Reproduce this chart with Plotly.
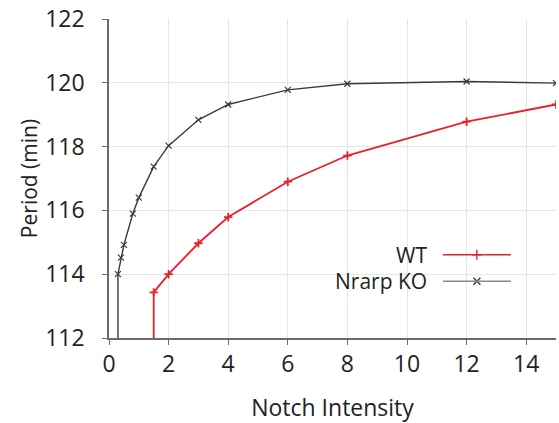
import plotly.graph_objects as go

# Notch intensity sweep and resulting oscillation period (min)
wt_intensity = [1.5, 2, 3, 4, 6, 8, 12, 15]
wt_period = [113.43, 114.0, 114.97, 115.79, 116.9, 117.72, 118.78, 119.32]

ko_intensity = [0.3, 0.4, 0.5, 0.8, 1, 1.5, 2, 3, 4, 6, 8, 12, 15]
ko_period = [114.0, 114.52, 114.92, 115.9, 116.4, 117.37, 118.03, 118.84, 119.32, 119.78, 119.97, 120.04, 119.99]

series_names = ["WT", "Nrarp KO"]
x_ticks = [0, 2, 4, 6, 8, 10, 12, 14]
y_ticks = [112, 114, 116, 118, 120, 122]

Y_MIN, Y_MAX = 112, 122
X_MIN, X_MAX = 0, 15

RED = "#e8202a"
DARK = "#3a3a3a"
KEY_GRAY = "#8a8a8a"
FONT = "Open Sans"
TEXT = "#222"

fig = go.Figure()

# below the first oscillating intensity the period drops off the axis
fig.add_trace(go.Scatter(
    x=[wt_intensity[0], wt_intensity[0]], y=[Y_MIN, wt_period[0]],
    mode="lines", line=dict(color=RED, width=1.8), showlegend=False,
    hoverinfo="skip"))
fig.add_trace(go.Scatter(
    x=[ko_intensity[0], ko_intensity[0]], y=[Y_MIN, ko_period[0]],
    mode="lines", line=dict(color=DARK, width=1.4), showlegend=False,
    hoverinfo="skip"))

fig.add_trace(go.Scatter(
    x=wt_intensity, y=wt_period, mode="lines+markers", name=series_names[0],
    line=dict(color=RED, width=1.8),
    marker=dict(symbol="cross-thin", size=6, line=dict(color=RED, width=1.8)),
    showlegend=False))
fig.add_trace(go.Scatter(
    x=ko_intensity, y=ko_period, mode="lines+markers", name=series_names[1],
    line=dict(color=DARK, width=1.4),
    marker=dict(symbol="x-thin", size=6, line=dict(color=DARK, width=1.2)),
    showlegend=False))

# legend: label on the left, line key with its marker on the right
key_rows = [
    (series_names[0], 0.261, RED, "cross-thin", 1.6),
    (series_names[1], 0.178, KEY_GRAY, "x-thin", 1.4),
]
key_x0, key_x1 = 0.747, 0.899
for label, ky, color, symbol, lw in key_rows:
    fig.add_shape(type="line", xref="paper", yref="paper",
                  x0=key_x0, x1=key_x1, y0=ky, y1=ky,
                  line=dict(color=color, width=lw))
    fig.add_trace(go.Scatter(
        x=[(key_x0 + key_x1) / 2], y=[ky], xaxis="x2", yaxis="y2",
        mode="markers", showlegend=False, hoverinfo="skip",
        marker=dict(symbol=symbol, size=7,
                    line=dict(color=DARK if symbol == "x-thin" else color,
                              width=1.4))))
    fig.add_annotation(text=label, xref="paper", yref="paper",
                       x=0.713, y=ky, xanchor="right", yanchor="middle",
                       showarrow=False, borderpad=0,
                       font=dict(family=FONT, size=21, color=TEXT))

axis_common = dict(
    showline=True, linecolor="#6a6a6a", linewidth=1.5,
    ticks="outside", ticklen=5, tickwidth=1.2, tickcolor="#6a6a6a",
    showgrid=True, gridcolor="#e6e6e6", gridwidth=1,
    zeroline=False, tickfont=dict(family=FONT, size=23, color=TEXT),
)

fig.update_layout(
    width=559, height=423,
    margin=dict(l=109, r=3, t=19, b=84.5),
    paper_bgcolor="white", plot_bgcolor="white",
    font=dict(family=FONT, color=TEXT),
    xaxis=dict(range=[X_MIN, X_MAX], tickvals=x_ticks, **axis_common,
               title=dict(text="Notch Intensity",
                          font=dict(family=FONT, size=23, color=TEXT),
                          standoff=23)),
    yaxis=dict(range=[Y_MIN, Y_MAX], tickvals=y_ticks, **axis_common,
               ticklabelstandoff=13,
               title=dict(text="Period (min)",
                          font=dict(family=FONT, size=21, color=TEXT),
                          standoff=2)),
    xaxis2=dict(overlaying="x", range=[0, 1], visible=False),
    yaxis2=dict(overlaying="y", range=[0, 1], visible=False),
)

fig.write_html("out.html")
